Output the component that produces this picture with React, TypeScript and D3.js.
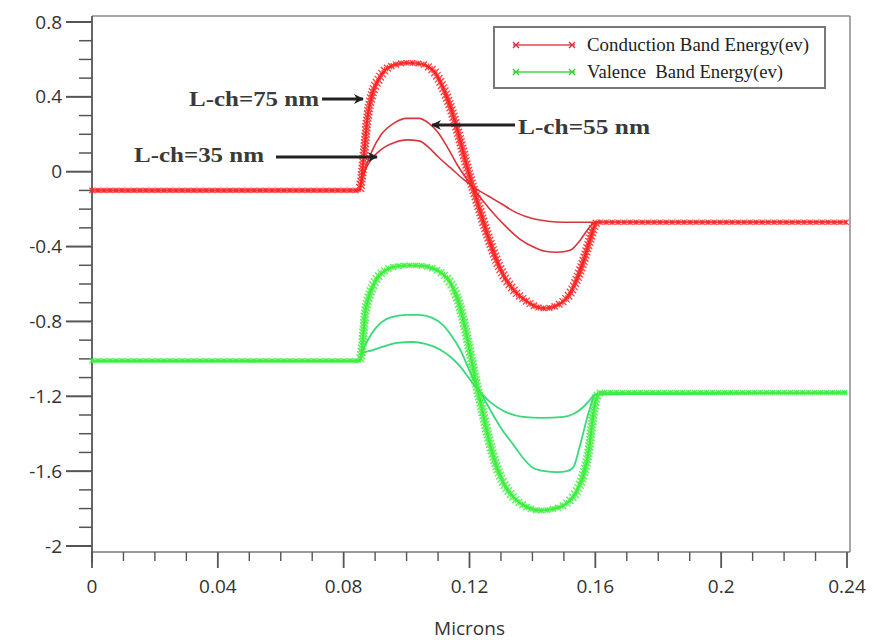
import React, { useEffect, useRef } from "react";
import * as d3 from "d3";

type Pt = [number, number];

// Conduction band (eV) vs position (microns)
const cond75: Pt[] = [
  [0, -0.1], [0.085, -0.1], [0.0855, -0.06], [0.0865, 0.1], [0.0875, 0.28], [0.089, 0.41],
  [0.091, 0.49], [0.093, 0.54], [0.096, 0.57], [0.1, 0.582], [0.104, 0.578], [0.107, 0.56],
  [0.109, 0.53], [0.111, 0.47], [0.113, 0.39], [0.115, 0.29], [0.117, 0.17], [0.119, 0.04],
  [0.121, -0.08], [0.123, -0.19], [0.125, -0.3], [0.127, -0.4], [0.129, -0.49], [0.131, -0.56],
  [0.133, -0.61], [0.135, -0.65], [0.138, -0.69], [0.141, -0.72], [0.144, -0.73], [0.147, -0.72],
  [0.15, -0.69], [0.152, -0.65], [0.154, -0.58], [0.156, -0.49], [0.158, -0.38], [0.16, -0.28],
  [0.161, -0.27], [0.24, -0.27],
];
const cond55: Pt[] = [
  [0, -0.1], [0.085, -0.1], [0.086, -0.03], [0.089, 0.11], [0.092, 0.2], [0.096, 0.26],
  [0.1, 0.285], [0.104, 0.285], [0.107, 0.26], [0.11, 0.21], [0.113, 0.13], [0.116, 0.04],
  [0.12, -0.06], [0.124, -0.15], [0.128, -0.23], [0.132, -0.3], [0.136, -0.36], [0.14, -0.4],
  [0.144, -0.425], [0.148, -0.43], [0.152, -0.42], [0.155, -0.37], [0.158, -0.3], [0.16, -0.27],
  [0.24, -0.27],
];
const cond35: Pt[] = [
  [0, -0.1], [0.085, -0.1], [0.086, -0.03], [0.089, 0.07], [0.092, 0.12], [0.096, 0.155],
  [0.1, 0.17], [0.104, 0.165], [0.107, 0.13], [0.11, 0.08], [0.114, 0.02], [0.118, -0.04],
  [0.122, -0.09], [0.126, -0.13], [0.13, -0.17], [0.135, -0.22], [0.14, -0.25], [0.145, -0.265],
  [0.15, -0.27], [0.16, -0.27], [0.24, -0.27],
];

// Valence band (eV)
const val75: Pt[] = [
  [0, -1.01], [0.085, -1.01], [0.0858, -0.95], [0.0868, -0.76], [0.088, -0.67], [0.0893, -0.61],
  [0.091, -0.56], [0.0935, -0.525], [0.097, -0.505], [0.101, -0.5], [0.105, -0.503], [0.108, -0.515],
  [0.111, -0.54], [0.1138, -0.59], [0.116, -0.67], [0.118, -0.79], [0.12, -0.95], [0.122, -1.12],
  [0.124, -1.27], [0.126, -1.42], [0.1287, -1.58], [0.131, -1.67], [0.134, -1.74], [0.138, -1.79],
  [0.1424, -1.81], [0.147, -1.8], [0.151, -1.77], [0.154, -1.71], [0.156, -1.63], [0.158, -1.48],
  [0.159, -1.34], [0.1605, -1.2], [0.162, -1.18], [0.24, -1.18],
];
const val55: Pt[] = [
  [0, -1.01], [0.085, -1.01], [0.086, -0.96], [0.088, -0.89], [0.09, -0.84], [0.0947, -0.78],
  [0.1, -0.765], [0.104, -0.765], [0.108, -0.78], [0.1116, -0.82], [0.114, -0.87], [0.117, -0.95],
  [0.121, -1.1], [0.1265, -1.27], [0.13, -1.37], [0.134, -1.46], [0.137, -1.53], [0.14, -1.58],
  [0.144, -1.6], [0.148, -1.605], [0.151, -1.6], [0.153, -1.58], [0.155, -1.47], [0.158, -1.28],
  [0.16, -1.19], [0.24, -1.18],
];
const val35: Pt[] = [
  [0, -1.01], [0.085, -1.01], [0.086, -0.97], [0.089, -0.955], [0.0925, -0.935], [0.097, -0.915],
  [0.102, -0.91], [0.106, -0.92], [0.1106, -0.95], [0.114, -0.99], [0.117, -1.04], [0.121, -1.13],
  [0.1265, -1.23], [0.131, -1.28], [0.137, -1.31], [0.143, -1.315], [0.15, -1.31], [0.153, -1.295],
  [0.156, -1.26], [0.158, -1.225], [0.16, -1.19], [0.24, -1.18],
];

const xTicks = [0, 0.04, 0.08, 0.12, 0.16, 0.2, 0.24];
const xTickLabels = ["0", "0.04", "0.08", "0.12", "0.16", "0.2", "0.24"];
const yTicks = [0.8, 0.4, 0, -0.4, -0.8, -1.2, -1.6, -2];
const yTickLabels = ["0.8", "0.4", "0", "-0.4", "-0.8", "-1.2", "-1.6", "-2"];
const legendLabels = ["Conduction Band Energy(ev)", "Valence  Band Energy(ev)"];
const annotations = ["L-ch=75 nm", "L-ch=55 nm", "L-ch=35 nm"];
const xTitle = "Microns";

export default function App() {
  const ref = useRef<SVGSVGElement>(null);

  useEffect(() => {
    const svg = d3.select(ref.current!);
    svg.selectAll("*").remove();

    const x = d3.scaleLinear().domain([0, 0.24]).range([92, 847]);
    const y = d3.scaleLinear().domain([0.8, -2]).range([22, 546]);
    const left = 92, right = 850, top = 16, bottom = 552;
    const sans = "'Open Sans', 'Noto Sans', sans-serif";
    const serif = "'Liberation Serif', 'Times New Roman', serif";

    svg.append("rect").attr("width", 875).attr("height", 640).attr("fill", "#fff");

    const defs = svg.append("defs");
    defs.append("marker").attr("id", "ah").attr("viewBox", "0 0 10 10").attr("refX", 9).attr("refY", 5)
      .attr("markerWidth", 10).attr("markerHeight", 10).attr("markerUnits", "userSpaceOnUse").attr("orient", "auto")
      .append("path").attr("d", "M0,0 L10,5 L0,10 L3,5 Z").attr("fill", "#222");

    // frame
    svg.append("line").attr("x1", left).attr("x2", right).attr("y1", top).attr("y2", top).attr("stroke", "#8a8a8a").attr("stroke-width", 1.5);
    svg.append("line").attr("x1", right).attr("x2", right).attr("y1", top).attr("y2", bottom).attr("stroke", "#8a8a8a").attr("stroke-width", 1.5);
    svg.append("line").attr("x1", left).attr("x2", right).attr("y1", bottom).attr("y2", bottom).attr("stroke", "#7a7a7a").attr("stroke-width", 1.5);
    svg.append("line").attr("x1", left).attr("x2", left).attr("y1", top).attr("y2", bottom + 11).attr("stroke", "#555").attr("stroke-width", 1.8);

    // y ticks
    const yMinor = d3.range(-20, 9).map((k) => k / 10);
    yMinor.forEach((v) => {
      const major = Math.abs(Math.round(v * 10) % 4) === 0;
      svg.append("line").attr("x1", left - (major ? 26 : 13)).attr("x2", left)
        .attr("y1", y(v)).attr("y2", y(v)).attr("stroke", "#555").attr("stroke-width", major ? 2 : 1.5);
    });
    yTicks.forEach((v, i) => {
      svg.append("text").attr("x", 62).attr("y", y(v) + 6.5).attr("text-anchor", "end")
        .attr("font-family", sans).attr("font-size", 19).attr("fill", "#333")
        .text(yTickLabels[i]);
    });

    // x ticks
    d3.range(0, 25).forEach((k) => {
      const u = k / 100;
      const major = k % 4 === 0;
      svg.append("line").attr("x1", x(u)).attr("x2", x(u)).attr("y1", bottom).attr("y2", bottom + (major ? 16 : 9))
        .attr("stroke", "#555").attr("stroke-width", major ? 1.8 : 1.4);
    });
    xTicks.forEach((u, i) => {
      svg.append("text").attr("x", x(u)).attr("y", 593).attr("text-anchor", "middle")
        .attr("font-family", sans).attr("font-size", 19).attr("fill", "#333")
        .text(xTickLabels[i]);
    });
    svg.append("text").attr("x", x(0.12)).attr("y", 635).attr("text-anchor", "middle")
      .attr("font-family", sans).attr("font-size", 19).attr("fill", "#333")
      .text(xTitle);

    const line = d3.line<Pt>().x((d) => x(d[0])).y((d) => y(d[1])).curve(d3.curveMonotoneX);

    const thin = (data: Pt[], color: string, w: number) =>
      svg.append("path").attr("d", line(data)!).attr("fill", "none").attr("stroke", color).attr("stroke-width", w);

    const marked = (data: Pt[], color: string, lineColor: string) => {
      const p = svg.append("path").attr("d", line(data)!).attr("fill", "none").attr("stroke", lineColor).attr("stroke-width", 2.2);
      const node = p.node() as SVGPathElement;
      const L = node.getTotalLength();
      let d = "";
      let t = 0;
      while (t <= L) {
        const q = node.getPointAtLength(t);
        const q2 = node.getPointAtLength(Math.min(L, t + 1));
        const q0 = node.getPointAtLength(Math.max(0, t - 1));
        const dx = q2.x - q0.x, dy = q2.y - q0.y;
        const sn = Math.abs(dy) / Math.max(1e-6, Math.hypot(dx, dy));
        const s = 2.6 + 1.4 * sn;
        d += `M${q.x - s},${q.y - s}L${q.x + s},${q.y + s}M${q.x - s},${q.y + s}L${q.x + s},${q.y - s}M${q.x},${q.y - s}L${q.x},${q.y + s}`;
        t += 6 - 2.8 * sn;
      }
      svg.append("path").attr("d", d).attr("fill", "none").attr("stroke", color).attr("stroke-width", 1.3).attr("opacity", 0.85);
    };

    thin(cond35, "#d8343c", 1.6);
    thin(cond55, "#d8343c", 1.6);
    thin(val35, "#3ad87a", 1.8);
    thin(val55, "#3ad87a", 1.8);
    marked(cond75, "#ff2020", "#ff3a3a");
    marked(val75, "#3aee3a", "#44ee44");

    // legend
    svg.append("rect").attr("x", 494).attr("y", 27).attr("width", 331).attr("height", 61)
      .attr("fill", "#fff").attr("stroke", "#777").attr("stroke-width", 2);
    const legColors = [["#f0707a", "#e03040"], ["#70e070", "#30d030"]];
    [45, 72].forEach((ly, i) => {
      svg.append("line").attr("x1", 513).attr("x2", 575).attr("y1", ly).attr("y2", ly).attr("stroke", legColors[i][0]).attr("stroke-width", 1.8);
      [516, 572].forEach((mx) => {
        svg.append("path").attr("d", `M${mx - 3},${ly - 3}L${mx + 3},${ly + 3}M${mx - 3},${ly + 3}L${mx + 3},${ly - 3}`)
          .attr("stroke", legColors[i][1]).attr("stroke-width", 1.4);
      });
      svg.append("text").attr("x", 587).attr("y", ly + 6).attr("font-family", serif)
        .attr("font-size", 18).attr("fill", "#222").attr("textLength", i === 0 ? 222 : 196).attr("lengthAdjust", "spacingAndGlyphs")
        .style("white-space", "pre").attr("xml:space", "preserve")
        .text(legendLabels[i]);
    });

    // annotations
    const ann = (txt: string, tx: number, ty: number, w: number) =>
      svg.append("text").attr("x", tx).attr("y", ty).attr("font-family", serif)
        .attr("font-weight", "bold").attr("font-size", 22).attr("fill", "#3a3a3a")
        .attr("textLength", w).attr("lengthAdjust", "spacingAndGlyphs").text(txt);
    const arrow = (x1: number, y1: number, x2: number, y2: number) =>
      svg.append("line").attr("x1", x1).attr("y1", y1).attr("x2", x2).attr("y2", y2)
        .attr("stroke", "#222").attr("stroke-width", 3).attr("marker-end", "url(#ah)");

    ann(annotations[0], 189, 106, 130);
    arrow(322, 99, 363, 99);
    ann(annotations[1], 518, 134, 132);
    arrow(515, 125, 432, 125);
    ann(annotations[2], 134, 162, 130);
    arrow(276, 157, 377, 157);
  }, []);

  return <svg ref={ref} width={875} height={640} style={{ position: "absolute", left: 0, top: 0 }} />;
}
